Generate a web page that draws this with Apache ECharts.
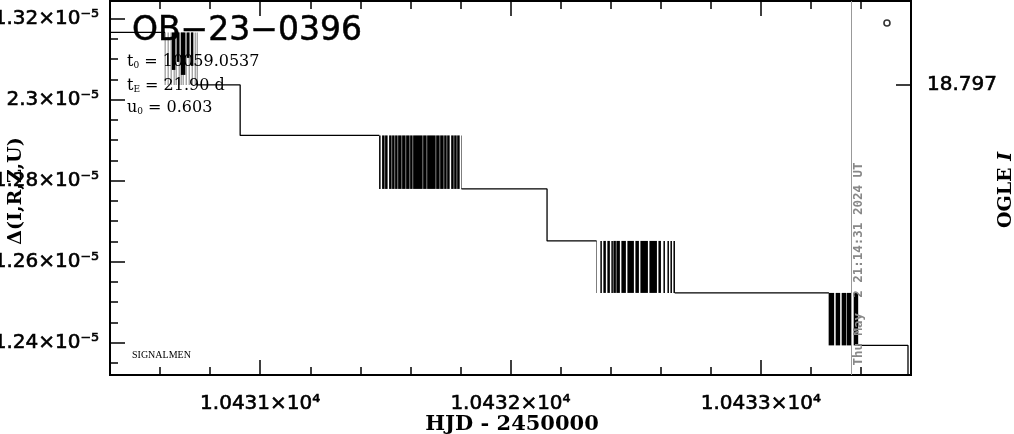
<!DOCTYPE html>
<html><head><meta charset="utf-8">
<script src="https://cdn.jsdelivr.net/npm/echarts@6/dist/echarts.min.js"></script>
<style>html,body{margin:0;padding:0;background:#fff;}#c{width:1014px;height:434px;}</style>
</head><body><div id="c"></div>
<script>
// ---- data (HJD - 2450000, Δ in units of 1e-5) ----
const xMajor = [10431, 10432, 10433];
const xMinor = [10430.6, 10430.8, 10431.2, 10431.4, 10431.6, 10431.8, 10432.2, 10432.4, 10432.6, 10432.8, 10433.2, 10433.4];
const xTickLabels = ['1.0431×10⁴', '1.0432×10⁴', '1.0433×10⁴'];
const yMajor = [1.24, 1.26, 1.28, 1.30, 1.32];
const yMinor = [1.235, 1.245, 1.25, 1.255, 1.265, 1.27, 1.275, 1.285, 1.29, 1.295, 1.305, 1.31, 1.315];
const yTickLabels = ['1.24×10⁻⁵', '1.26×10⁻⁵', '1.28×10⁻⁵', '2.3×10⁻⁵', '1.32×10⁻⁵'];
const ogleTicks = [18.797];
const ogleTickLabels = ['18.797'];

// plateaus of the step curve
const plateauLead = [[10429.90, 1.31659], [10430.620, 1.31659]];
const plateauA = [[10430.748, 1.30363], [10430.920, 1.30363], [10430.920, 1.29116], [10431.476, 1.29116]];
const plateauB = [[10431.804, 1.27795], [10432.146, 1.27795], [10432.146, 1.26511], [10432.344, 1.26511]];
const plateauC = [[10432.656, 1.25227], [10433.272, 1.25227]];
const plateauD = [[10433.388, 1.23931], [10433.588, 1.23931], [10433.588, 1.2265]];

// bursts of rapid switching between two levels: [tStart, tEnd]
const burst1Range = [1.30363, 1.31659];
const burst1 = [[10430.620,10430.620],[10430.632,10430.632],[10430.644,10430.644],[10430.656,10430.656],[10430.664,10430.664],[10430.676,10430.676],[10430.684,10430.684],[10430.692,10430.692],[10430.704,10430.704],[10430.716,10430.716],[10430.728,10430.728],[10430.740,10430.740],[10430.748,10430.748]];
// partial excursions: [tStart, tEnd, low, high]
const burst1Partial = [[10430.648,10430.660,1.30733,1.31659],[10430.668,10430.676,1.30931,1.31659],[10430.684,10430.700,1.30610,1.31659],[10430.708,10430.716,1.31030,1.31659],[10430.724,10430.732,1.30832,1.31659]];

const burst2Range = [1.27795, 1.29116];
const burst2 = [[10431.476,10431.480],[10431.488,10431.496],[10431.500,10431.508],[10431.516,10431.524],[10431.528,10431.536],[10431.540,10431.548],[10431.552,10431.564],[10431.568,10431.580],[10431.584,10431.596],[10431.600,10431.608],[10431.612,10431.648],[10431.652,10431.664],[10431.668,10431.700],[10431.704,10431.716],[10431.720,10431.732],[10431.736,10431.744],[10431.748,10431.756],[10431.764,10431.772],[10431.776,10431.784],[10431.788,10431.796],[10431.804,10431.804]];

const burst3Range = [1.25227, 1.26511];
const burst3 = [[10432.344,10432.344],[10432.360,10432.364],[10432.372,10432.380],[10432.388,10432.396],[10432.404,10432.408],[10432.412,10432.420],[10432.424,10432.436],[10432.444,10432.460],[10432.468,10432.492],[10432.500,10432.512],[10432.520,10432.548],[10432.556,10432.584],[10432.592,10432.600],[10432.612,10432.616],[10432.628,10432.632],[10432.640,10432.644],[10432.652,10432.656]];

const burst4Range = [1.23931, 1.25227];
const burst4 = [[10433.272,10433.292],[10433.300,10433.316],[10433.324,10433.340],[10433.344,10433.360],[10433.372,10433.388]];

// OGLE I point
const oglePoint = [[10433.504, 18.7254]];
const nowHJD = 10433.364;

function bands(list, range) { return list.map(p => [p[0], p[1], range[0], range[1]]); }
const bandData = [].concat(
  bands(burst1, burst1Range), burst1Partial,
  bands(burst2, burst2Range), bands(burst3, burst3Range), bands(burst4, burst4Range));

function pick(vals, labels) {
  return v => { const i = vals.findIndex(m => Math.abs(m - v) < 1e-6); return i < 0 ? '' : labels[i]; };
}

const tickFont = { fontFamily: 'DejaVu Sans', fontSize: 20, color: '#000', textBorderColor: '#000', textBorderWidth: 0.6 };
const chart = echarts.init(document.getElementById('c'), null, { renderer: 'canvas' });

function xAx(pos, vals, len, lbl) {
  return {
    type: 'value', position: pos, min: 10430.4, max: 10433.6,
    axisLine: { show: false }, splitLine: { show: false },
    axisTick: { show: true, inside: true, length: len, customValues: vals, lineStyle: { color: '#000', width: 1.5 } },
    axisLabel: lbl ? Object.assign({ show: true, customValues: xMajor, margin: 19, formatter: pick(xMajor, xTickLabels) }, tickFont) : { show: false }
  };
}
function yAx(vals, len, lbl) {
  return {
    type: 'value', position: 'left', min: 1.232, max: 1.32435,
    axisLine: { show: false }, splitLine: { show: false },
    axisTick: { show: true, inside: true, length: len, customValues: vals, lineStyle: { color: '#000', width: 1.5 } },
    axisLabel: lbl ? Object.assign({ show: true, customValues: yMajor, margin: 11, formatter: pick(yMajor, yTickLabels) }, tickFont) : { show: false }
  };
}

const lineStyle = { color: '#000', width: 1.3 };
function plateau(d, clip) {
  return { type: 'line', data: d, symbol: 'none', lineStyle: lineStyle, clip: clip, animation: false, silent: true, xAxisIndex: 0, yAxisIndex: 0 };
}

chart.setOption({
  animation: false,
  backgroundColor: '#fff',
  grid: { left: 110, right: 103, top: 1, height: 374, containLabel: false, outerBoundsMode: 'none', show: true, borderColor: '#000', borderWidth: 2, backgroundColor: 'transparent' },
  xAxis: [xAx('bottom', xMajor, 15, true), xAx('bottom', xMinor, 8, false), xAx('top', xMajor, 15, false), xAx('top', xMinor, 8, false)],
  yAxis: [yAx(yMajor, 15, true), yAx(yMinor, 8, false), {
    type: 'value', position: 'right', inverse: true, min: 18.70, max: 19.132,
    axisLine: { show: false }, splitLine: { show: false },
    axisTick: { show: true, inside: true, length: 15, customValues: ogleTicks, lineStyle: { color: '#000', width: 1.5 } },
    axisLabel: Object.assign({ show: true, customValues: ogleTicks, margin: 16, formatter: pick(ogleTicks, ogleTickLabels) }, tickFont)
  }],
  series: [
    plateau(plateauLead, false), plateau(plateauA, true), plateau(plateauB, true), plateau(plateauC, true), plateau(plateauD, true),
    {
      type: 'custom', data: bandData, xAxisIndex: 0, yAxisIndex: 0, silent: true, animation: false,
      encode: { x: [0, 1], y: [2, 3] },
      renderItem: function (params, api) {
        const a = api.coord([api.value(0), api.value(3)]);
        const b = api.coord([api.value(1), api.value(2)]);
        const w = (b[0] - a[0]) + 0.5;
        return { type: 'rect', shape: { x: a[0] - 0.25, y: a[1], width: w, height: b[1] - a[1] }, style: { fill: '#000' } };
      }
    },
    {
      type: 'scatter', data: oglePoint, xAxisIndex: 0, yAxisIndex: 2, symbol: 'circle', symbolSize: 6, silent: true,
      itemStyle: { color: '#fff', borderColor: '#000', borderWidth: 1.6 },
      markLine: { silent: true, symbol: 'none', label: { show: false }, lineStyle: { color: '#999', type: 'solid', width: 1 }, data: [{ xAxis: nowHJD }] }
    }
  ],
  graphic: [
    { type: 'text', x: 132, y: 31, z: 100, style: { text: 'OB−23−0396', font: '33px "DejaVu Sans"', fill: '#000', stroke: '#000', lineWidth: 0.5, textVerticalAlign: 'middle' } },
    { type: 'text', x: 127, y: 62, z: 100, style: { text: '{i|t}{s|0}{i| = 10059.0537}', textVerticalAlign: 'middle', rich: { i: { fontFamily: 'DejaVu Serif', fontSize: 16, fill: '#000' }, s: { fontFamily: 'DejaVu Serif', fontSize: 9, verticalAlign: 'bottom', fill: '#000' } } } },
    { type: 'text', x: 127, y: 86, z: 100, style: { text: '{i|t}{s|E}{i| = 21.90 d}', textVerticalAlign: 'middle', rich: { i: { fontFamily: 'DejaVu Serif', fontSize: 16, fill: '#000' }, s: { fontFamily: 'DejaVu Serif', fontSize: 9, verticalAlign: 'bottom', fill: '#000' } } } },
    { type: 'text', x: 127, y: 108, z: 100, style: { text: '{i|u}{s|0}{i| = 0.603}', textVerticalAlign: 'middle', rich: { i: { fontFamily: 'DejaVu Serif', fontSize: 16, fill: '#000' }, s: { fontFamily: 'DejaVu Serif', fontSize: 9, verticalAlign: 'bottom', fill: '#000' } } } },
    { type: 'text', x: 132, y: 355, z: 100, style: { text: 'SIGNALMEN', font: '10px "Liberation Serif"', fill: '#000', textVerticalAlign: 'middle' } },
    { type: 'text', x: 859, y: 264, rotation: Math.PI / 2, z: 100, style: { text: 'Thu May  2 21:14:31 2024 UT', font: 'bold 12.5px "DejaVu Sans Mono"', fill: '#888', textAlign: 'center', textVerticalAlign: 'middle' } },
    { type: 'text', x: 16, y: 191, rotation: Math.PI / 2, z: 100, style: { text: 'Δ(I,R,Z,U)', font: 'bold 19px "DejaVu Serif"', fill: '#000', textAlign: 'center', textVerticalAlign: 'middle' } },
    { type: 'text', x: 1006, y: 190, rotation: Math.PI / 2, z: 100, style: { text: '{a|OGLE }{b|I}', textAlign: 'center', textVerticalAlign: 'middle', rich: { a: { fontFamily: 'DejaVu Serif', fontSize: 19, fontWeight: 'bold', fill: '#000' }, b: { fontFamily: 'DejaVu Serif', fontSize: 19, fontWeight: 'bold', fontStyle: 'italic', fill: '#000' } } } },
    { type: 'text', x: 512, y: 425, z: 100, style: { text: 'HJD - 2450000', font: 'bold 21px "DejaVu Serif"', fill: '#000', textAlign: 'center', textVerticalAlign: 'middle' } }
  ]
});
</script></body></html>
